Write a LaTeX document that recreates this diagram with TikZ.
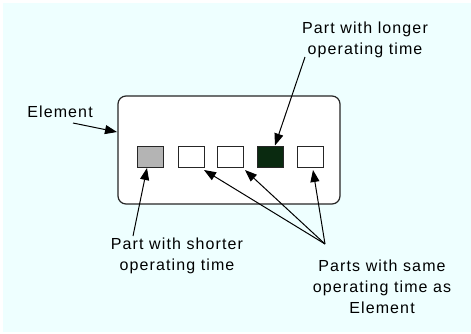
\documentclass[tikz,border=0pt]{standalone}
\usepackage{fontspec}
\setmainfont{Liberation Sans}[LetterSpace=7]
\usetikzlibrary{arrows.meta}
\definecolor{bgcyan}{RGB}{238,255,255}
\definecolor{darkpart}{RGB}{10,42,16}
\definecolor{graypart}{RGB}{180,180,180}
\tikzset{
  part/.style={draw=black!85, line width=1pt, minimum width=26pt, minimum height=21pt, inner sep=0pt},
  lbl/.style={align=center, font=\fontsize{16}{21}\selectfont, inner sep=0pt},
  arr/.style={line width=1pt, -{Triangle[length=12pt,width=9pt]}, shorten >=0pt}
}
\begin{document}
\begin{tikzpicture}[x=1pt,y=-1pt]
\useasboundingbox (0,0) rectangle (471,333);
\fill[bgcyan] (3,3) rectangle (471,332);
\node[draw=black!85, fill=white, line width=1.2pt, rounded corners=8pt, minimum width=222pt, minimum height=108pt, inner sep=0pt] (elem) at (229,150) {};
\node[part, fill=graypart] (p1) at (150,156.5) {};
\node[part, fill=white] (p2) at (191,156.5) {};
\node[part, fill=white] (p3) at (230,156.5) {};
\node[part, fill=darkpart] (p4) at (270,156.5) {};
\node[part, fill=white] (p5) at (310,156.5) {};
\node[lbl] (tlong) at (365,39.5) {Part with longer\\operating time};
\node[lbl] (telem) at (60,112) {Element};
\node[lbl] (tshort) at (177,255.5) {Part with shorter\\operating time};
\node[lbl] (tsame) at (382,287) {Parts with same\\operating time as\\Element};
\coordinate (aelem) at (73,123);
\coordinate (along) at (305,57);
\coordinate (ashort) at (133,236);
\coordinate (asame) at (325,244);
\draw[arr] (aelem) -- (117,132);
\draw[arr] (along) -- (p4.north -| 275,0);
\draw[arr] (ashort) -- (147,168);
\draw[arr] (asame) -- (204,170);
\draw[arr] (asame) -- (245,170);
\draw[arr] (asame) -- (313,170);
\end{tikzpicture}
\end{document}
